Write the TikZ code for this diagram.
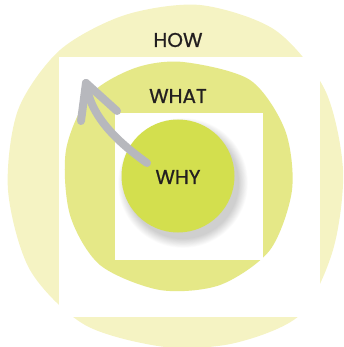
\documentclass[tikz,border=0pt]{standalone}
\usepackage{fontspec}
\newfontfamily\labelfont{Poppins}[FakeBold=0.8]
\definecolor{chow}{HTML}{F5F3C3}
\definecolor{cwhat}{HTML}{E5E887}
\definecolor{cwhy}{HTML}{D3DF4E}
\definecolor{carrow}{HTML}{B7B8BD}
\definecolor{cink}{HTML}{231F20}

\begin{document}
\begin{tikzpicture}[
  x=1pt, y=-1pt,
  label/.style={text=cink, font=\labelfont\fontsize{20}{20}\selectfont, inner sep=0pt},
  gap/.style={fill=white, draw=none},
  arrowline/.style={carrow, line width=8pt, line cap=round, line join=round},
]
\useasboundingbox (0,0) rectangle (343,347);
% ---------- outer ring: how ----------
\fill[chow] plot[smooth cycle] coordinates {
  (200,5) (275,30) (325,90) (343,170) (333,250) (300,315) (235,343)
  (165,347) (85,325) (30,270) (8,190) (18,110) (60,50) (125,15)};
\fill[gap] (59,57) rectangle (320,317);
% ---------- middle ring: what ----------
\fill[cwhat] plot[smooth cycle] coordinates {
  (183,62) (250,80) (285,130) (292,190) (270,250) (220,285)
  (160,290) (100,265) (70,215) (66,150) (90,95) (135,68)};
\fill[gap] (115,113) rectangle (263,260);
% ---------- core: why, with a soft shadow ----------
\foreach \s in {0,...,11}
  \fill[black, opacity=0.016] (183,183) circle ({56+0.8*(11-\s)});
\node[circle, fill=cwhy, minimum size=113pt, inner sep=0pt] (core) at (178,176) {};
% ---------- labels ----------
\node[label] (how) at (178,40) {HOW};
\node[label] (what) at (178,96) {WHAT};
\node[label] (why) at (178,177) {WHY};
% ---------- arrow from why outwards ----------
\coordinate (start) at (147,163);
\coordinate (tip) at (86,83);
\coordinate (barbL) at (81,121);
\coordinate (barbR) at (117,111);
\draw[arrowline] (start) .. controls (115,140) and (90,115) .. (tip);
\draw[arrowline] (barbL) -- (tip) -- (barbR);
\end{tikzpicture}
\end{document}
